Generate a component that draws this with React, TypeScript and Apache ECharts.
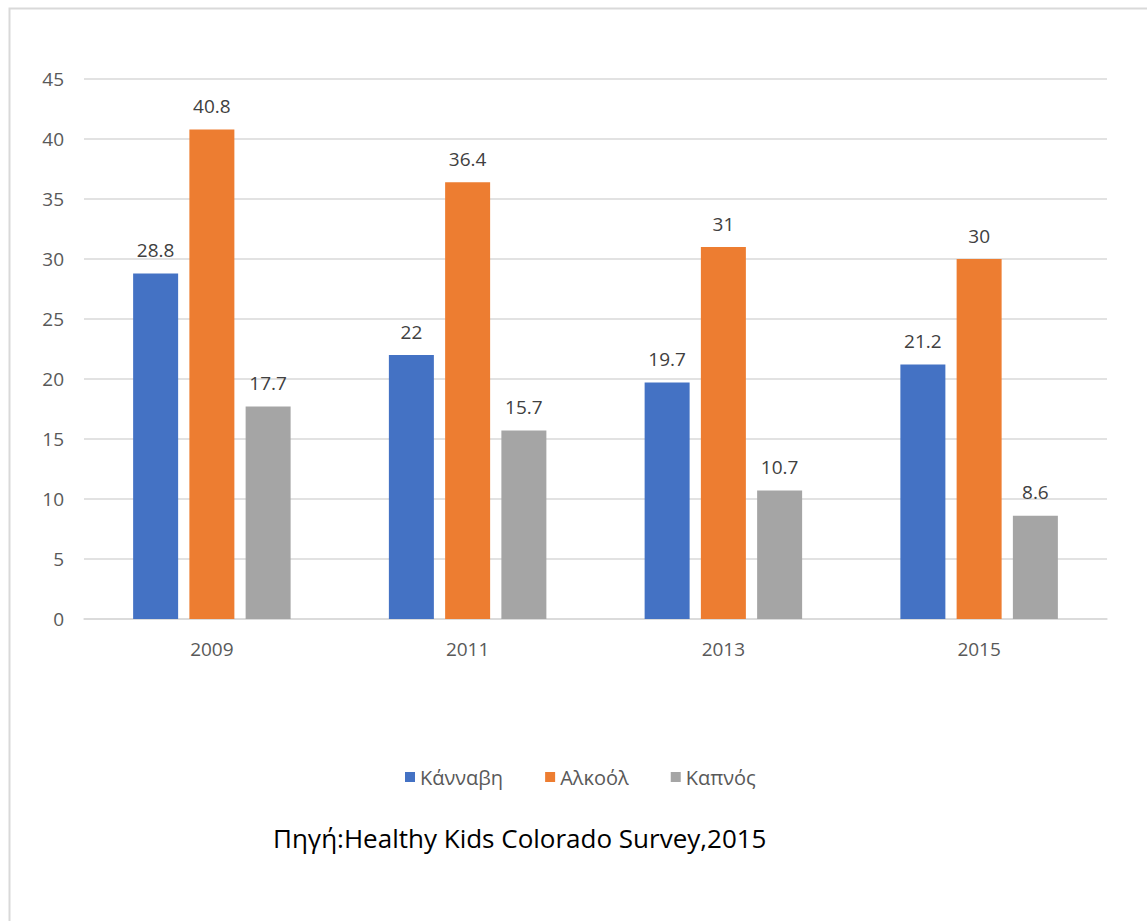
import React, { useEffect, useRef } from "react";
import * as echarts from "echarts";

const years = ["2009", "2011", "2013", "2015"];
const cannabis = [28.8, 22, 19.7, 21.2];
const alcohol = [40.8, 36.4, 31, 30];
const smoking = [17.7, 15.7, 10.7, 8.6];
const seriesNames = ["Κάνναβη", "Αλκοόλ", "Καπνός"];
const colors = ["#4472C4", "#ED7D31", "#A5A5A5"];
const sourceText = "Πηγή:Healthy Kids Colorado Survey,2015";

const FONT = "'Open Sans', 'Noto Sans', sans-serif";

export default function App() {
  const ref = useRef<HTMLDivElement>(null);

  useEffect(() => {
    document.body.style.margin = "0";
    const chart = echarts.init(ref.current!, null, { renderer: "svg" });
    const values = [cannabis, alcohol, smoking];
    chart.setOption({
      animation: false,
      backgroundColor: "#ffffff",
      textStyle: { fontFamily: FONT },
      grid: { left: 84, right: 40, top: 79, bottom: 302, containLabel: false },
      legend: {
        data: seriesNames,
        left: 400,
        top: 762,
        icon: "rect",
        itemWidth: 10,
        itemHeight: 10,
        itemGap: 42,
        textStyle: { fontSize: 20, color: "#595959", fontFamily: FONT },
      },
      xAxis: {
        type: "category",
        data: years,
        axisLine: { lineStyle: { color: "#d9d9d9", width: 1.5 } },
        axisTick: { show: false },
        axisLabel: { fontSize: 19, color: "#595959", margin: 20 },
      },
      yAxis: {
        type: "value",
        min: 0,
        max: 45,
        interval: 5,
        axisLine: { show: false },
        axisTick: { show: false },
        splitLine: { lineStyle: { color: "#d9d9d9", width: 1.5 } },
        axisLabel: { fontSize: 19, color: "#595959", margin: 20 },
      },
      series: seriesNames.map((name, i) => ({
        name,
        type: "bar",
        data: values[i],
        barWidth: 45,
        barGap: "25%",
        itemStyle: { color: colors[i] },
        label: {
          show: true,
          position: "top",
          distance: 14,
          fontSize: 19,
          color: "#404040",
        },
      })),
      graphic: [
        {
          type: "rect",
          shape: { x: 9.5, y: 8.5, width: 1200, height: 1000 },
          style: { fill: "none", stroke: "#d9d9d9", lineWidth: 2 },
          silent: true,
        },
        {
          type: "text",
          left: 273,
          top: 825,
          style: {
            text: sourceText,
            fontSize: 26,
            fill: "#000000",
            fontFamily: FONT,
          },
        },
      ],
    });
    return () => chart.dispose();
  }, []);

  return (
    <div
      ref={ref}
      style={{ position: "absolute", left: 0, top: 0, width: 1147, height: 921 }}
    />
  );
}
